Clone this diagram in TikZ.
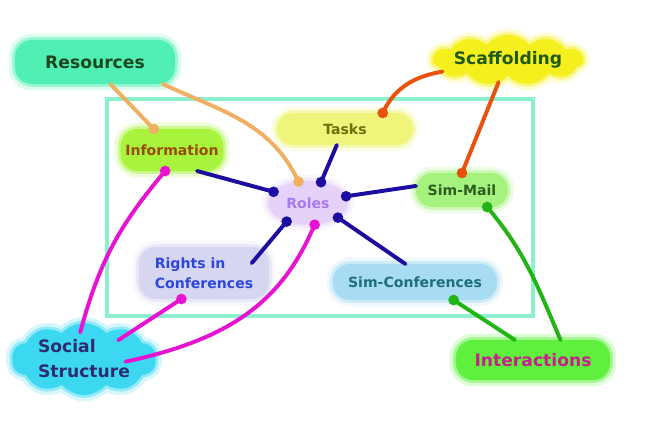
\documentclass[tikz,border=0pt]{standalone}
\usepackage{fontspec}
\setmainfont{DejaVu Sans}
\usetikzlibrary{shapes.geometric,shapes.symbols}
\definecolor{resfill}{RGB}{80,240,180}
\definecolor{restext}{RGB}{30,70,32}
\definecolor{scaffill}{RGB}{245,239,30}
\definecolor{scaftext}{RGB}{30,90,20}
\definecolor{infofill}{RGB}{168,244,60}
\definecolor{infotext}{RGB}{154,74,0}
\definecolor{taskfill}{RGB}{238,245,122}
\definecolor{tasktext}{RGB}{110,110,10}
\definecolor{mailfill}{RGB}{166,242,126}
\definecolor{mailtext}{RGB}{46,94,30}
\definecolor{rolefill}{RGB}{230,210,248}
\definecolor{roletext}{RGB}{168,120,240}
\definecolor{rightfill}{RGB}{214,214,240}
\definecolor{righttext}{RGB}{46,70,224}
\definecolor{conffill}{RGB}{168,220,242}
\definecolor{conftext}{RGB}{30,110,126}
\definecolor{socfill}{RGB}{60,216,242}
\definecolor{soctext}{RGB}{44,44,110}
\definecolor{interfill}{RGB}{94,240,60}
\definecolor{intertext}{RGB}{200,32,138}
\definecolor{frame}{RGB}{140,240,204}
\definecolor{resline}{RGB}{240,176,100}
\definecolor{scafline}{RGB}{232,82,14}
\definecolor{roleline}{RGB}{28,12,160}
\definecolor{socline}{RGB}{230,20,210}
\definecolor{interline}{RGB}{34,180,20}
\begin{document}
\begin{tikzpicture}[x=0.025cm, y=-0.025cm,
	blob/.style={fill=#1, draw=#1, draw opacity=.45, line width=4pt, outer sep=0pt,
		preaction={draw=#1, draw opacity=.2, line width=9pt},
		font=\bfseries\fontsize{10}{14.2}\selectfont},
	box/.style={rounded corners=12pt},
	puffy/.style={cloud, cloud ignores aspect, cloud puffs=#1, cloud puff arc=100, inner sep=0pt},
	big/.style={font=\bfseries\fontsize{12.2}{17.8}\selectfont},
	link/.style={line width=2.8pt, line cap=round}]
	\useasboundingbox (0,0) rectangle (672,446);
	\draw[frame, line width=2.2pt] (107,99) rectangle (533,316);
	\node[blob=resfill, box, big, text=restext, minimum width=4cm, minimum height=1.1cm] (res) at (95,62) {Resources};
	\node[blob=scaffill, puffy=11, big, text=scaftext, minimum width=3.6cm, minimum height=1.25cm] (scaf) at (508,60) {Scaffolding};
	\node[blob=infofill, box, text=infotext, minimum width=2.55cm, minimum height=1.05cm] (info) at (172,150) {Information};
	\node[blob=taskfill, box, text=tasktext, minimum width=3.4cm, minimum height=0.8cm] (tasks) at (345,129) {Tasks};
	\node[blob=mailfill, box, text=mailtext, minimum width=2.3cm, minimum height=0.85cm] (mail) at (462,190) {Sim-Mail};
	\node[blob=rolefill, ellipse, text=roletext, minimum width=2cm, minimum height=1.1cm] (roles) at (308,203) {Roles};
	\node[blob=rightfill, box, align=left, text=righttext, minimum width=3.25cm, minimum height=1.3cm] (rights) at (204,273) {Rights in\\Conferences};
	\node[blob=conffill, box, text=conftext, minimum width=4.1cm, minimum height=0.9cm] (conf) at (415,282) {Sim-Conferences};
	\node[blob=socfill, puffy=10, big, align=left, text=soctext, minimum width=3.6cm, minimum height=1.8cm] (social) at (84,359) {Social\\Structure};
	\node[blob=interfill, box, big, text=intertext, minimum width=3.85cm, minimum height=1cm] (inter) at (533,360) {Interactions};

	\draw[link, resline] (res.-55) -- (info.131);
	\draw[link, resline] (res.-18) to[out=-25, in=115] (roles.114);
	\fill[resline] (info.131) circle (3.8pt) (roles.114) circle (3.8pt);

	\draw[link, scafline] (scaf.-170) to[out=190, in=65] (tasks.23);
	\draw[link, scafline] (scaf.-113) -- (mail.north);
	\fill[scafline] (tasks.23) circle (3.8pt) (mail.north) circle (3.8pt);

	\draw[link, roleline] (info.-40) -- (roles.162);
	\draw[link, roleline] (tasks.-117) -- (roles.58);
	\draw[link, roleline] (mail.175) -- (roles.10);
	\draw[link, roleline, shorten <=-15pt] (rights.23) -- (roles.-139);
	\draw[link, roleline] (conf.118) -- (roles.-26);
	\foreach \a in {162,58,10,-139,-26}
		\fill[roleline] (roles.\a) circle (3.8pt);

	\draw[link, socline, shorten <=-7pt] (social.92) to[out=75, in=230] (info.-108);
	\draw[link, socline, shorten <=-11pt] (social.30) -- (rights.-131);
	\draw[link, socline, shorten <=-22pt] (social.3) to[out=12, in=247] (roles.-73);
	\fill[socline] (info.-108) circle (3.8pt) (rights.-131) circle (3.8pt) (roles.-73) circle (3.8pt);

	\draw[link, interline] (inter.132) -- (conf.-25);
	\draw[link, interline] (inter.36) to[out=113, in=-50] (mail.-34);
	\fill[interline] (conf.-25) circle (3.8pt) (mail.-34) circle (3.8pt);
\end{tikzpicture}
\end{document}
